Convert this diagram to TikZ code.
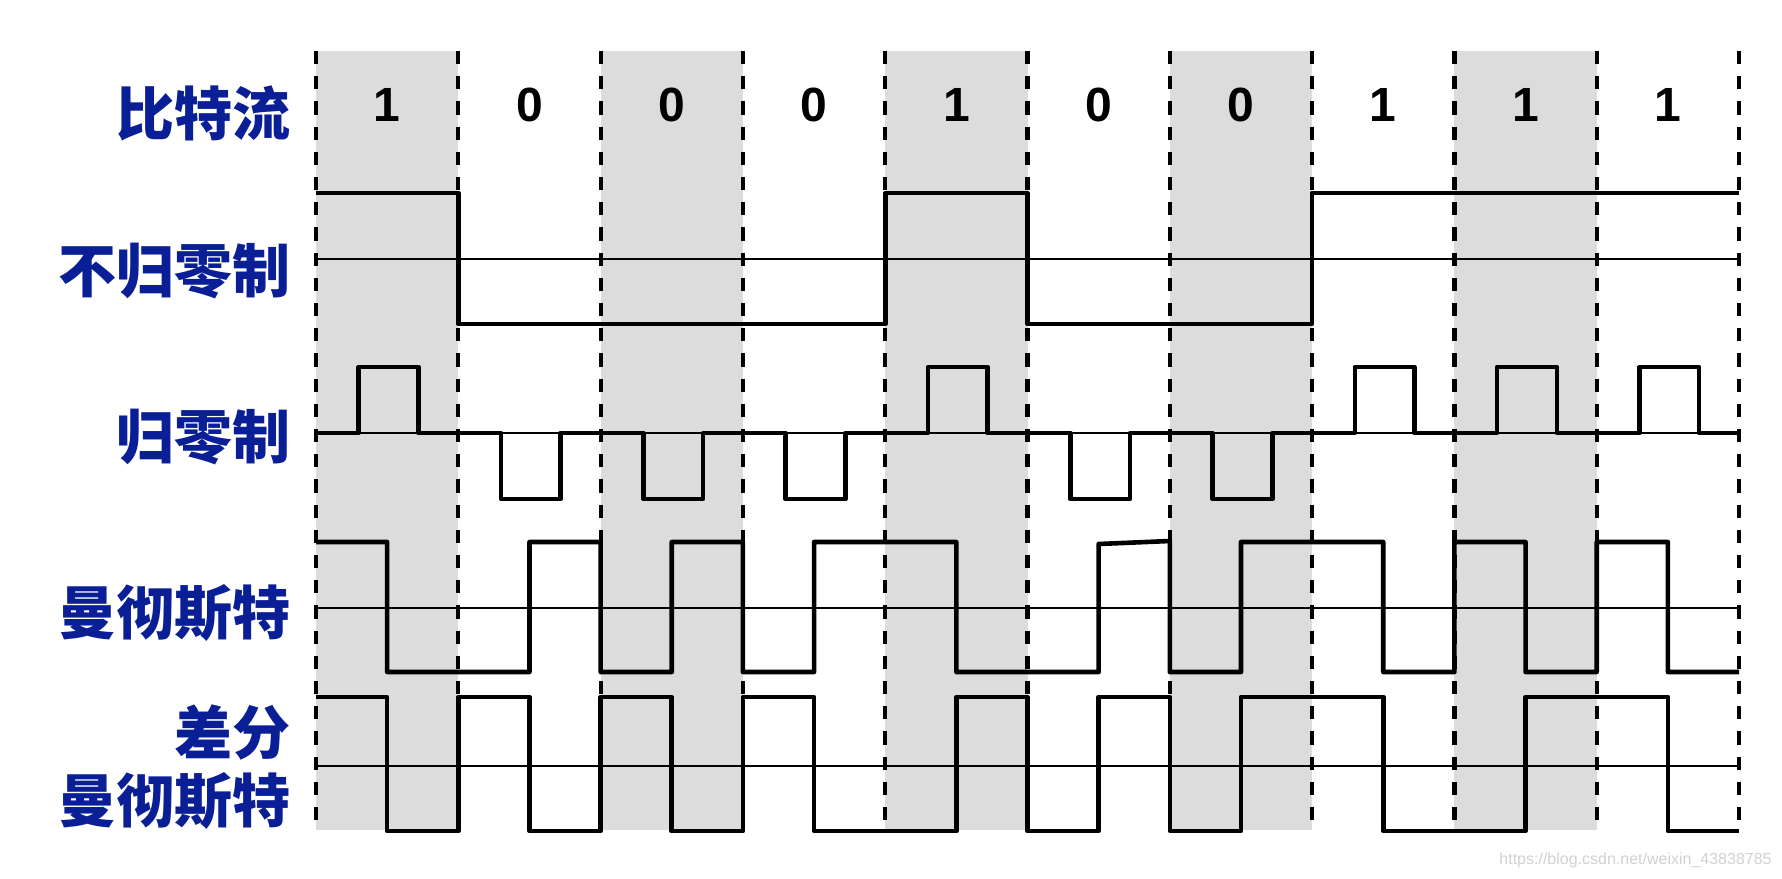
\documentclass[tikz,border=0pt]{standalone}
\usepackage{fontspec}
\setmainfont{Liberation Sans}
\newfontfamily\cjk{Noto Sans CJK SC}
\begin{document}
\begin{tikzpicture}[x=0.5pt, y=-0.5pt, line join=round,
    sig/.style={line width=2.3pt},
    zero/.style={line width=0.8pt},
    slot/.style={line width=2.1pt, dash pattern=on 6.6pt off 6pt},
    lab/.style={anchor=east, inner sep=0pt, text=dblue, align=right,
      font=\cjk\bfseries\fontsize{29}{34}\selectfont},
    bit/.style={inner sep=0pt, font=\bfseries\fontsize{24}{24}\selectfont}]
  \definecolor{dblue}{HTML}{0A1E96}
  \definecolor{lgray}{HTML}{DCDCDC}
  \useasboundingbox (0,0) rectangle (1782,878);
  % row labels
  \node[lab] (lbits) at (291,113) {比特流};
  \node[lab] (lnrz) at (291,271) {不归零制};
  \node[lab] (lrz) at (291,437) {归零制};
  \node[lab] (lman) at (291,613) {曼彻斯特};
  \node[lab] (ldman) at (291,767) {差分\\曼彻斯特};
  % one unit of x = one bit slot
  \begin{scope}[xshift=158pt, x=71.15pt]
    \foreach \i in {0,2,...,8} \fill[lgray] (\i,51) rectangle (\i+1,830);
    \foreach \i in {0,...,10} \draw[slot] (\i,51) -- (\i,830);
    \foreach \b [count=\i from 0] in {1,0,0,0,1,0,0,1,1,1}
      \node[bit] (b\i) at (\i+0.5,105) {\b};
    \foreach \y in {259,433,608,766} \draw[zero] (0,\y) -- (10,\y);
    % non return to zero
    \draw[sig] (0,193) -- (1,193) -- (1,324) -- (4,324) -- (4,193) -- (5,193)
      -- (5,324) -- (7,324) -- (7,193) -- (10,193);
    % return to zero
    \draw[sig] (0,433) \foreach \i/\y in {0/367,1/499,2/499,3/499,4/367,5/499,6/499,7/367,8/367,9/367}
      { -- (\i+0.3,433) -- (\i+0.3,\y) -- (\i+0.72,\y) -- (\i+0.72,433) } -- (10,433);
    % manchester
    \draw[sig] (0,542) -- (0.5,542) -- (0.5,672) -- (1.5,672) -- (1.5,542) -- (2,542)
      -- (2,672) -- (2.5,672) -- (2.5,542) -- (3,542) -- (3,672) -- (3.5,672)
      -- (3.5,542) -- (4.5,542) -- (4.5,672) -- (5.5,672) -- (5.5,544) -- (6,541)
      -- (6,672) -- (6.5,672) -- (6.5,542) -- (7.5,542) -- (7.5,672) -- (8,672)
      -- (8,542) -- (8.5,542) -- (8.5,672) -- (9,672) -- (9,542) -- (9.5,542)
      -- (9.5,672) -- (10,672);
    % differential manchester
    \draw[sig] (0,697) -- (0.5,697) -- (0.5,831) -- (1,831) -- (1,697) -- (1.5,697)
      -- (1.5,831) -- (2,831) -- (2,697) -- (2.5,697) -- (2.5,831) -- (3,831)
      -- (3,697) -- (3.5,697) -- (3.5,831) -- (4.5,831) -- (4.5,697) -- (5,697)
      -- (5,831) -- (5.5,831) -- (5.5,697) -- (6,697) -- (6,831) -- (6.5,831)
      -- (6.5,697) -- (7.5,697) -- (7.5,831) -- (8.5,831) -- (8.5,697) -- (9.5,697)
      -- (9.5,831) -- (10,831);
  \end{scope}
  \node[anchor=east, inner sep=0pt, text=black!18, font=\fontsize{8}{8}\selectfont]
    (mark) at (1772,860) {https://blog.csdn.net/weixin\_43838785};
\end{tikzpicture}
\end{document}
